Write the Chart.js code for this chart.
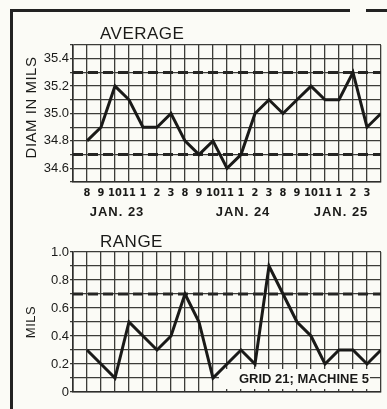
<!DOCTYPE html>
<html>
<head>
<meta charset="utf-8">
<script src="https://cdn.jsdelivr.net/npm/chart.js@4.4.1/dist/chart.umd.min.js"></script>
<style>
  html, body { margin: 0; padding: 0; background: #fbfbf6; }
  #wrap { position: relative; width: 387px; height: 409px; overflow: hidden; }
  .rule { position: absolute; background: #222; }
  #c1box { position: absolute; left: 0; top: 0; width: 387px; height: 230px; }
  #c2box { position: absolute; left: 0; top: 230px; width: 387px; height: 179px; }
</style>
</head>
<body>
<div id="wrap">
  <div id="c1box"><canvas id="avgChart"></canvas></div>
  <div id="c2box"><canvas id="rangeChart"></canvas></div>
  <div class="rule" style="left:10px;top:9px;width:3px;height:400px"></div>
  <div class="rule" style="left:10px;top:9px;width:340px;height:3px"></div>
  <div class="rule" style="left:366px;top:9px;width:21px;height:3px"></div>
</div>
<script>
// hour of each sample (last sample has no label)
const hours = ["8","9","10","11","1","2","3","8","9","10","11","1","2","3","8","9","10","11","1","2","3"];
const days = ["JAN. 23", "JAN. 24", "JAN. 25"];
const dayAt = [2, 11, 18];

// sample averages, diameter in mils
const avgDiam = [34.8, 34.9, 35.2, 35.1, 34.9, 34.9, 35.0, 34.8, 34.7, 34.8, 34.6,
                 34.7, 35.0, 35.1, 35.0, 35.1, 35.2, 35.1, 35.1, 35.3, 34.9, 35.0];
// sample ranges, mils
const rangeMils = [0.3, 0.2, 0.1, 0.5, 0.4, 0.3, 0.4, 0.7, 0.5, 0.1, 0.2,
                   0.3, 0.2, 0.9, 0.7, 0.5, 0.4, 0.2, 0.3, 0.3, 0.2, 0.3];

// control limits
const avgLimits = [35.3, 34.7];
const rangeLimits = [0.7];

// axis spans
const xSpan = [-1, 21];
const avgSpan = [34.5, 35.5];
const rangeSpan = [0, 1.0];

const INK = "#1a1a18";
const GRID = "#3c3c38";
const PAPER = "#fbfbf6";

function textPlugin(cfg) {
  return {
    id: "texts",
    beforeDatasetsDraw(chart) {
      if (!cfg.under) return;
      const ctx = chart.ctx; ctx.save(); cfg.under(chart, ctx); ctx.restore();
    },
    afterDraw(chart) { const ctx = chart.ctx; ctx.save(); cfg.draw(chart, ctx); ctx.restore(); },
  };
}

function buildChart(canvas, cfg) {
  const toPts = arr => arr.map((v, i) => ({ x: i, y: v }));
  const datasets = [{
    data: toPts(cfg.values),
    borderColor: INK,
    borderWidth: 3,
    pointRadius: 0,
    tension: 0,
    order: 0,
  }];
  cfg.limits.forEach(L => datasets.push({
    data: [{ x: xSpan[0], y: L }, { x: xSpan[1], y: L }],
    borderColor: "#262624",
    borderWidth: 3,
    borderDash: [10, 5],
    pointRadius: 0,
    order: 1,
  }));

  return new Chart(canvas.getContext("2d"), {
    type: "line",
    data: { datasets },
    options: {
      responsive: true,
      maintainAspectRatio: false,
      animation: false,
      layout: { padding: { left: 0, top: cfg.top, right: 6, bottom: 0 } },
      scales: {
        x: {
          type: "linear",
          min: xSpan[0], max: xSpan[1],
          afterFit: s => { s.height = cfg.xHeight; },
          ticks: {
            stepSize: 1, autoSkip: false, maxRotation: 0, padding: 5,
            color: INK,
            font: { family: "'DejaVu Sans Condensed', 'DejaVu Sans', sans-serif", size: 11, weight: "bold" },
            callback: v => cfg.showHours ? (hours[v] ?? "") : "",
          },
          grid: { color: GRID, lineWidth: 1.3, drawTicks: false },
          border: { color: "#2e2e2c", width: 1.6 },
        },
        y: {
          min: cfg.span[0], max: cfg.span[1],
          afterFit: s => { s.width = 73; },
          ticks: {
            stepSize: 0.1, padding: 1, autoSkip: false,
            color: INK,
            font: { family: "'Liberation Sans', Arial, sans-serif", size: 13 },
            callback: cfg.tickFmt,
          },
          grid: { color: GRID, lineWidth: 1.3, tickLength: 3 },
          border: { color: "#2e2e2c", width: 1.6 },
        },
      },
      plugins: { legend: { display: false }, tooltip: { enabled: false } },
    },
    plugins: [textPlugin(cfg)],
  });
}

buildChart(document.getElementById("avgChart"), {
  values: avgDiam,
  limits: avgLimits,
  span: avgSpan,
  top: 45,
  xHeight: 48,
  showHours: true,
  tickFmt: v => (Math.round(v * 10) % 2 === 0 ? v.toFixed(1) : ""),
  draw(chart, ctx) {
    const a = chart.chartArea, sx = chart.scales.x;
    ctx.fillStyle = INK;
    ctx.font = "17px 'Liberation Sans', Arial, sans-serif";
    ctx.textAlign = "left";
    ctx.textBaseline = "middle";
    ctx.letterSpacing = "0.5px";
    ctx.fillText("AVERAGE", a.left + 27, 34);

    ctx.font = "bold 13px 'Liberation Sans', Arial, sans-serif";
    ctx.textAlign = "center";
    ctx.letterSpacing = "1px";
    days.forEach((d, k) => ctx.fillText(d, sx.getPixelForValue(dayAt[k]) + 2, 212));

    ctx.save();
    ctx.translate(32, (a.top + a.bottom) / 2 - 6);
    ctx.rotate(-Math.PI / 2);
    ctx.font = "15px 'Liberation Sans', Arial, sans-serif";
    ctx.letterSpacing = "0.5px";
    ctx.fillText("DIAM IN MILS", 0, 0);
    ctx.restore();
  },
});

buildChart(document.getElementById("rangeChart"), {
  values: rangeMils,
  limits: rangeLimits,
  span: rangeSpan,
  top: 22,
  xHeight: 17,
  showHours: false,
  tickFmt: v => {
    const k = Math.round(v * 10);
    if (k % 2) return "";
    return k === 0 ? "0" : v.toFixed(1);
  },
  under(chart, ctx) {
    // note box blanks the grid behind the label
    const a = chart.chartArea;
    ctx.fillStyle = PAPER;
    ctx.fillRect(a.left + 146, a.bottom - 23, 151, 20);
  },
  draw(chart, ctx) {
    const a = chart.chartArea;
    ctx.fillStyle = INK;
    ctx.font = "17px 'Liberation Sans', Arial, sans-serif";
    ctx.textAlign = "left";
    ctx.textBaseline = "middle";
    ctx.letterSpacing = "0.5px";
    ctx.fillText("RANGE", a.left + 27, 12);

    ctx.font = "bold 13px 'Liberation Sans', Arial, sans-serif";
    ctx.textAlign = "right";
    ctx.letterSpacing = "0px";
    ctx.fillText("GRID 21; MACHINE 5", a.right - 12, a.bottom - 13);

    ctx.save();
    ctx.translate(31, (a.top + a.bottom) / 2);
    ctx.rotate(-Math.PI / 2);
    ctx.textAlign = "center";
    ctx.font = "13px 'Liberation Sans', Arial, sans-serif";
    ctx.letterSpacing = "0.5px";
    ctx.fillText("MILS", 0, 0);
    ctx.restore();
  },
});
</script>
</body>
</html>
